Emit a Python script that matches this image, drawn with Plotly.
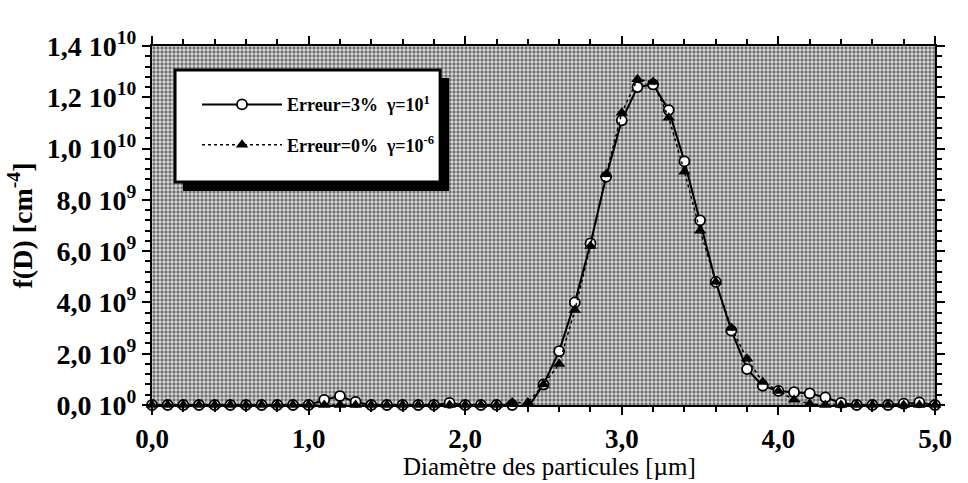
import plotly.graph_objects as go

# ---- data (values in units of 1e9 cm^-4) ----
diametre = [0.0, 0.1, 0.2, 0.3, 0.4, 0.5, 0.6, 0.7, 0.8, 0.9,
            1.0, 1.1, 1.2, 1.3, 1.4, 1.5, 1.6, 1.7, 1.8, 1.9,
            2.0, 2.1, 2.2, 2.3, 2.4, 2.5, 2.6, 2.7, 2.8, 2.9,
            3.0, 3.1, 3.2, 3.3, 3.4, 3.5, 3.6, 3.7, 3.8, 3.9,
            4.0, 4.1, 4.2, 4.3, 4.4, 4.5, 4.6, 4.7, 4.8, 4.9, 5.0]

erreur3 = [0, 0, 0, 0, 0, 0, 0, 0, 0, 0,
           0, 0.2, 0.35, 0.12, 0, 0, 0, 0, 0, 0.08,
           0, 0, 0, 0, -0.1, 0.8, 2.1, 4.0, 6.3, 8.9,
           11.1, 12.4, 12.5, 11.5, 9.5, 7.2, 4.8, 2.9, 1.4, 0.75,
           0.55, 0.5, 0.45, 0.3, 0.08, 0, 0, 0, 0.05, 0.1, 0]

erreur0 = [0, 0, 0, 0, 0, 0, 0, 0, 0, 0,
           0, 0, 0, 0, 0, 0, 0, 0, 0, 0,
           0, 0, 0, 0.1, 0.1, 0.8, 1.6, 3.7, 6.2, 9.0,
           11.4, 12.7, 12.6, 11.2, 9.1, 6.8, 4.8, 3.0, 1.8, 0.9,
           0.55, 0.2, 0.05, 0, 0, 0, 0, 0, 0, 0, 0]

scale = 1e9
y_tickvals = [0, 2e9, 4e9, 6e9, 8e9, 1e10, 1.2e10, 1.4e10]
y_ticktext = ["0,0 10<sup>0</sup>", "2,0 10<sup>9</sup>", "4,0 10<sup>9</sup>",
              "6,0 10<sup>9</sup>", "8,0 10<sup>9</sup>", "1,0 10<sup>10</sup>",
              "1,2 10<sup>10</sup>", "1,4 10<sup>10</sup>"]
x_tickvals = [0, 1, 2, 3, 4, 5]
x_ticktext = ["0,0", "1,0", "2,0", "3,0", "4,0", "5,0"]
x_title = "Diamètre des particules [µm]"
y_title = "f(D) [cm<sup>-4</sup>]"
names = ["Erreur=3%&nbsp;&nbsp;γ=10<sup>1</sup>", "Erreur=0%&nbsp;&nbsp;γ=10<sup>-6</sup>"]

XMIN, XMAX = 0, 5
YMIN, YMAX = 0, 1.4e10

FONT = "Liberation Serif"

fig = go.Figure()

# halftone background of the plotting area
fig.add_trace(go.Scatter(
    x=[XMIN, XMAX, XMAX, XMIN, XMIN], y=[YMIN, YMIN, YMAX, YMAX, YMIN],
    fill="toself", mode="lines", line=dict(width=0),
    fillcolor="#8a8a8a",
    fillpattern=dict(shape=".", size=4, solidity=0.55, fgcolor="#000000", bgcolor="#e0e0e0"),
    hoverinfo="skip", showlegend=False))

fig.add_trace(go.Scatter(
    x=diametre, y=[v * scale for v in erreur3],
    mode="lines+markers", name=names[0],
    legendgroup="a",
    line=dict(color="black", width=2),
    marker=dict(symbol="circle", size=10, color="white", line=dict(color="black", width=1.8)),
    cliponaxis=False))

fig.add_trace(go.Scatter(
    x=diametre, y=[v * scale for v in erreur0],
    mode="lines+markers", name=names[1],
    legendgroup="b",
    line=dict(color="black", width=1.5, dash="3px,3px"),
    marker=dict(symbol="triangle-up", size=11, color="black"),
    cliponaxis=False))

# legend box with drop shadow (paper coordinates)
fig.add_shape(type="rect", xref="paper", yref="paper",
              x0=0.0396, x1=0.3795, y0=0.596, y1=0.911,
              fillcolor="black", line=dict(color="black", width=0), layer="above")
fig.add_shape(type="rect", xref="paper", yref="paper",
              x0=0.0294, x1=0.368, y0=0.621, y1=0.933,
              fillcolor="white", line=dict(color="black", width=3), layer="above")

axis_common = dict(showgrid=False, zeroline=False, showline=True, linecolor="black",
                   linewidth=2, mirror="ticks", ticks="outside", tickcolor="black",
                   tickwidth=2, ticklen=8)

fig.update_xaxes(range=[XMIN, XMAX], tickmode="array", tickvals=x_tickvals, ticktext=x_ticktext,
                 ticklabelstandoff=1,
                 tickfont=dict(family=FONT, size=27, color="black", weight="bold"),
                 minor=dict(tickmode="linear", tick0=0, dtick=0.2, ticklen=5, ticks="outside",
                            tickcolor="black", tickwidth=1.5),
                 **axis_common)
fig.update_yaxes(range=[YMIN, YMAX], tickmode="array", tickvals=y_tickvals, ticktext=y_ticktext,
                 tickfont=dict(family=FONT, size=28, color="black", weight="bold"),
                 minor=dict(tickmode="linear", tick0=0, dtick=4e8, ticklen=5, ticks="outside",
                            tickcolor="black", tickwidth=1.5),
                 title=dict(text=y_title, standoff=6,
                            font=dict(family=FONT, size=28, color="black", weight="bold")),
                 **axis_common)

# x-axis title placed as an annotation so it fits in the bottom margin
fig.add_annotation(text=x_title, xref="paper", yref="paper", x=0.508, y=-0.17,
                   xanchor="center", yanchor="middle", showarrow=False,
                   font=dict(family=FONT, size=25, color="black"))

fig.update_layout(
    width=968, height=483,
    margin=dict(l=152, r=33, t=46, b=78),
    paper_bgcolor="white", plot_bgcolor="white",
    showlegend=True,
    legend=dict(x=0.0575, y=0.888, xanchor="left", yanchor="top",
                bgcolor="rgba(0,0,0,0)", borderwidth=0, itemwidth=80,
                traceorder="grouped", tracegroupgap=14,
                font=dict(family=FONT, size=18, color="black", weight="bold")),
    font=dict(family=FONT, color="black"),
)

fig.write_html("out.html",
               config={"displayModeBar": False},
               post_script="document.body.style.margin='0';document.body.style.overflow='hidden';")
